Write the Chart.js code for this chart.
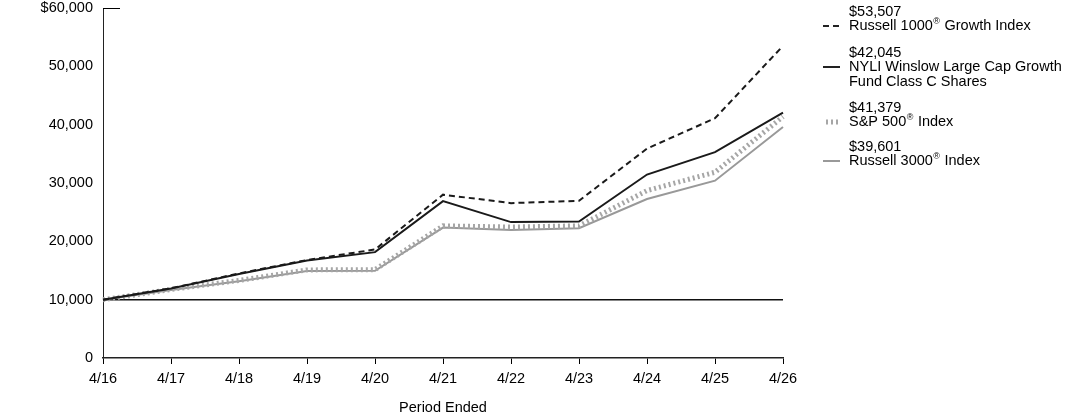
<!DOCTYPE html>
<html>
<head>
<meta charset="utf-8">
<script src="https://cdn.jsdelivr.net/npm/chart.js@4.4.1/dist/chart.umd.min.js"></script>
<style>
html,body{margin:0;padding:0;background:#fff;}
#wrap{position:relative;width:1092px;height:417px;}
</style>
</head>
<body>
<div id="wrap"><canvas id="c" width="1092" height="417"></canvas></div>
<script>
const categories = ['4/16','4/17','4/18','4/19','4/20','4/21','4/22','4/23','4/24','4/25','4/26'];
const russell1000Growth = [10000, 11950, 14500, 16800, 18600, 28000, 26550, 26950, 35900, 41100, 53507];
const fundClassC       = [10000, 11900, 14400, 16700, 18150, 26900, 23300, 23400, 31450, 35300, 42045];
const sp500            = [10000, 11750, 13300, 15100, 15150, 22650, 22450, 22650, 28700, 31850, 41379];
const russell3000      = [10000, 11650, 13150, 14900, 14950, 22350, 21950, 22250, 27250, 30400, 39601];
const yTicks = [0, 10000, 20000, 30000, 40000, 50000, 60000];
const legendItems = [
  {value:'$53,507', lines:[['Russell 1000','®',' Growth Index']], style:'dash'},
  {value:'$42,045', lines:[['NYLI Winslow Large Cap Growth'],['Fund Class C Shares']], style:'solid'},
  {value:'$41,379', lines:[['S&P 500','®',' Index']], style:'dot'},
  {value:'$39,601', lines:[['Russell 3000','®',' Index']], style:'gray'}
];

const FONT = '"Liberation Sans", Arial, sans-serif';
const FS = 14.5;

const extras = {
  id:'extras',
  afterDraw(chart){
    const ctx = chart.ctx;
    const y = chart.scales.y, x = chart.scales.x;
    ctx.save();
    ctx.strokeStyle = '#000'; ctx.lineWidth = 1;
    const yt = Math.round(y.getPixelForValue(60000)) + 0.5;
    ctx.beginPath(); ctx.moveTo(x.left, yt); ctx.lineTo(x.left + 17, yt); ctx.stroke();
    const lx = 823, tx = 849;
    const starts = [12, 53, 108, 147];
    legendItems.forEach((it, i) => {
      let ty = starts[i];
      ctx.fillStyle = '#000';
      ctx.textBaseline = 'middle';
      ctx.font = FS + 'px ' + FONT;
      ctx.fillText(it.value, tx, ty);
      ty += 14;
      const sy = ty;
      it.lines.forEach(parts => {
        let cx = tx;
        parts.forEach(p => {
          if (p === '®') {
            ctx.font = '9px ' + FONT;
            ctx.fillText(p, cx + 0.5, ty - 4);
            cx += ctx.measureText(p).width + 1;
          } else {
            ctx.font = FS + 'px ' + FONT;
            ctx.fillText(p, cx, ty);
            cx += ctx.measureText(p).width;
          }
        });
        ty += 14.5;
      });
      ctx.beginPath();
      if (it.style === 'dash') { ctx.strokeStyle = '#222'; ctx.lineWidth = 2; ctx.setLineDash([6,4]); }
      else if (it.style === 'solid') { ctx.strokeStyle = '#222'; ctx.lineWidth = 2; ctx.setLineDash([]); }
      else if (it.style === 'dot') { ctx.strokeStyle = '#a6a6a6'; ctx.lineWidth = 5; ctx.setLineDash([2,3]); }
      else { ctx.strokeStyle = '#999'; ctx.lineWidth = 2; ctx.setLineDash([]); }
      if (it.style === 'dot') { ctx.moveTo(lx + 3, sy); ctx.lineTo(lx + 18, sy); }
      else { ctx.moveTo(lx, sy); ctx.lineTo(lx + 17, sy); }
      ctx.stroke();
      ctx.setLineDash([]);
    });
    ctx.restore();
  }
};

new Chart(document.getElementById('c'), {
  type:'line',
  data:{
    labels:categories,
    datasets:[
      {label:'Russell 3000® Index', data:russell3000, borderColor:'#999', borderWidth:2, pointRadius:0, tension:0, order:4},
      {label:'S&P 500® Index', data:sp500, borderColor:'#a6a6a6', borderWidth:5, borderDash:[2,3], pointRadius:0, tension:0, order:3},
      {label:'NYLI Winslow Large Cap Growth Fund Class C Shares', data:fundClassC, borderColor:'#1a1a1a', borderWidth:2, pointRadius:0, tension:0, order:2},
      {label:'Russell 1000® Growth Index', data:russell1000Growth, borderColor:'#1a1a1a', borderWidth:2, borderDash:[6,4], pointRadius:0, tension:0, order:1}
    ]
  },
  options:{
    responsive:false,
    animation:false,
    devicePixelRatio:1,
    layout:{padding:{left:0, right:309, top:8, bottom:0}},
    plugins:{legend:{display:false}, tooltip:{enabled:false}},
    scales:{
      x:{
        type:'category',
        offset:false,
        grid:{display:true, drawOnChartArea:false, drawTicks:true, tickLength:6, color:'#000', lineWidth:1},
        border:{display:true, color:'#222', width:1.5},
        ticks:{color:'#000', font:{family:FONT, size:FS}, padding:6, maxRotation:0, autoSkip:false},
        title:{display:true, text:'Period Ended', color:'#000', font:{family:FONT, size:FS}, padding:{top:0, bottom:0}},
        afterFit(s){ s.height = 59; s.paddingLeft = 0; s.paddingRight = 0; }
      },
      y:{
        min:0, max:60000,
        afterBuildTicks(s){ s.ticks = yTicks.map(v => ({value:v})); },
        grid:{display:true, drawOnChartArea:true, drawTicks:false,
              color:c => (c.tick && c.tick.value === 10000) ? '#111' : 'rgba(0,0,0,0)', lineWidth:1.5},
        border:{display:true, color:'#222', width:1},
        ticks:{color:'#000', font:{family:FONT, size:FS}, padding:10,
               callback:v => v === 60000 ? '$60,000' : v.toLocaleString('en-US')},
        afterFit(s){ s.width = 103; s.paddingTop = 0; s.paddingBottom = 0; }
      }
    }
  },
  plugins:[extras]
});
</script>
</body>
</html>
